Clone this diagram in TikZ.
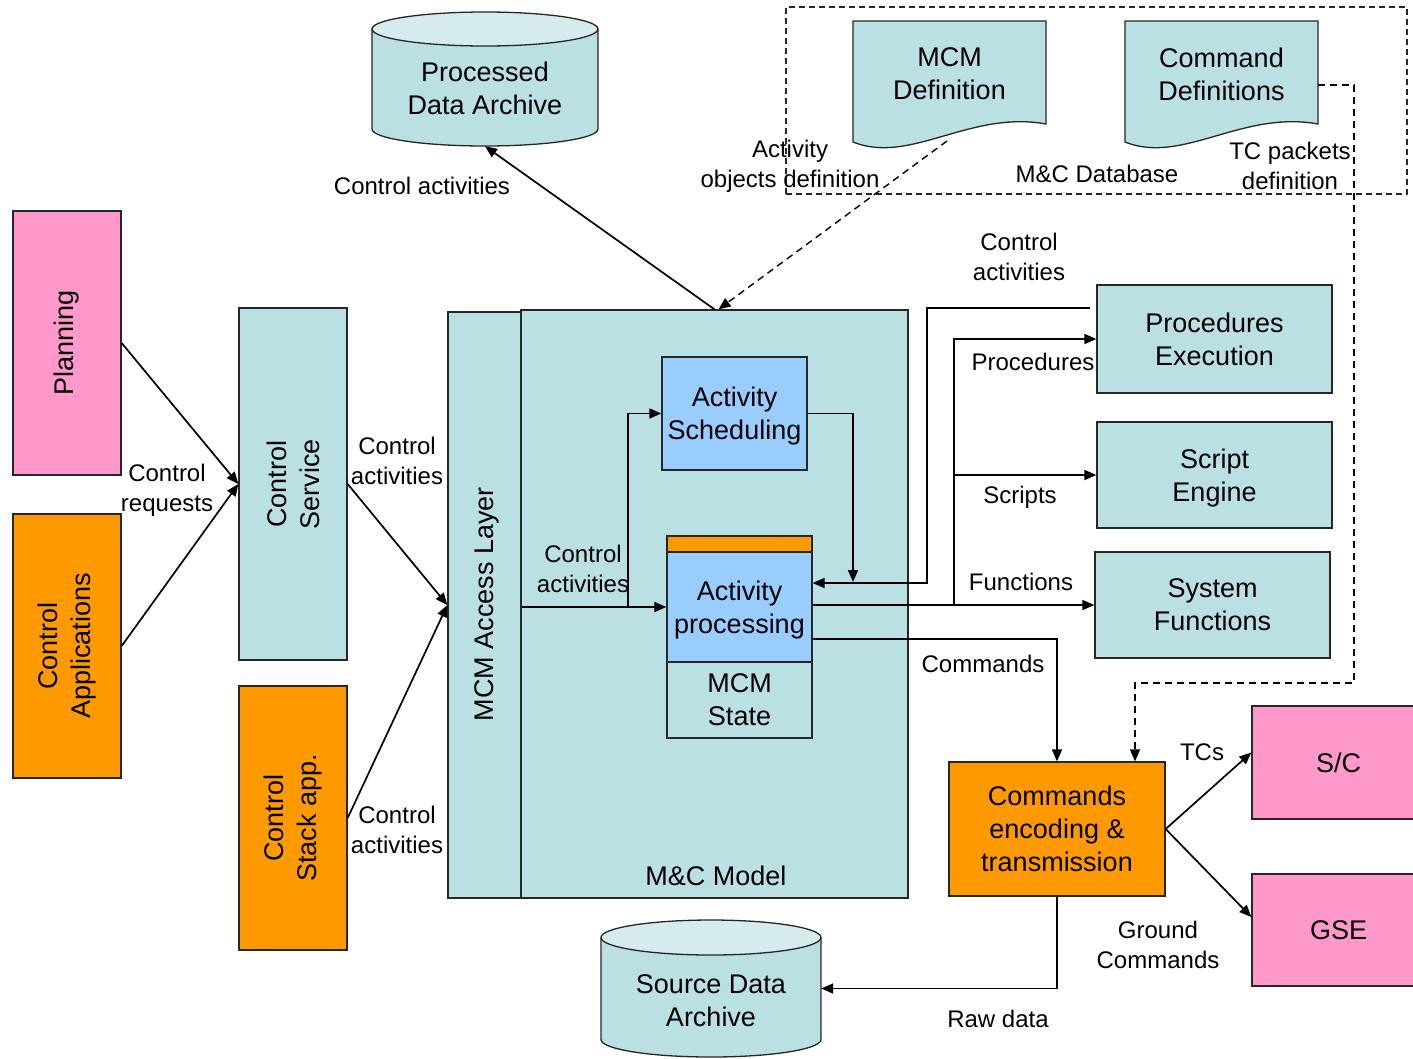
\documentclass[tikz,border=0pt]{standalone}
\usepackage{fontspec}
\setmainfont{Liberation Sans}
\usetikzlibrary{arrows.meta,calc}
\definecolor{teal1}{RGB}{187,224,227}
\definecolor{cyltop}{RGB}{213,235,238}
\definecolor{pink1}{RGB}{255,153,204}
\definecolor{orange1}{RGB}{255,153,0}
\definecolor{blue1}{RGB}{153,204,255}
\newcommand\bigf{\fontsize{27}{33}\selectfont}
\newcommand\lblf{\fontsize{24}{30}\selectfont}
\begin{document}
\begin{tikzpicture}[x=1pt,y=-1pt,
  box/.style={draw=black!85, line width=1.3pt, inner sep=0pt, align=center, font=\bigf, text depth=0pt},
  lbl/.style={inner sep=0pt, align=center, font=\lblf},
  rtxt/.style={rotate=90, inner sep=0pt, align=center, font=\bigf},
  edge/.style={draw=black!85, line width=1.3pt},
  arr/.style={line width=1.7pt, -{Triangle[length=12pt,width=10pt]}},
  dasharr/.style={line width=1.4pt, dash pattern=on 7pt off 5pt, -{Triangle[length=12pt,width=10pt]}},
]
\useasboundingbox (0,0) rectangle (1413,1058);

% ---- M&C Database frame and documents
\node[draw=black!85, line width=1.2pt, dash pattern=on 6pt off 4pt, minimum width=621pt, minimum height=187pt, inner sep=0pt] (db) at (1096.5,100.5) {};
\filldraw[fill=teal1, edge] (853,21) -- (1046,21) -- (1046,124) .. controls (970,110) and (910,165) .. (853,142) -- cycle;
\filldraw[fill=teal1, edge] (1125,21) -- (1318,21) -- (1318,124) .. controls (1242,110) and (1182,165) .. (1125,142) -- cycle;
\node[font=\bigf, align=center, inner sep=0pt] (mcmdef) at (949.5,74) {MCM\\Definition};
\node[font=\bigf, align=center, inner sep=0pt] (cmddef) at (1221.5,74) {Command\\Definitions};
\coordinate (mcmdefb) at (947,141);
\coordinate (cmddefr) at (1318,85);

% ---- Processed Data Archive cylinder
\node[minimum width=226pt, minimum height=134pt, inner sep=0pt] (pda) at (485,79) {};
\fill[teal1] (372,29) rectangle (598,129);
\fill[teal1] (485,129) ellipse[x radius=113pt, y radius=17pt];
\draw[edge] (372,29) -- (372,129) arc[start angle=180, end angle=360, x radius=113pt, y radius=17pt] -- (598,29);
\filldraw[fill=cyltop, edge] (485,29) ellipse[x radius=113pt, y radius=17pt];
\node[font=\bigf, align=center, inner sep=0pt] (pdat) at (485,88) {Processed\\Data Archive};

% ---- Source Data Archive cylinder
\node[minimum width=220pt, minimum height=137pt, inner sep=0pt] (sda) at (711,988.5) {};
\fill[teal1] (601,937.5) rectangle (821,1039.5);
\fill[teal1] (711,1039.5) ellipse[x radius=110pt, y radius=17.5pt];
\draw[edge] (601,937.5) -- (601,1039.5) arc[start angle=180, end angle=360, x radius=110pt, y radius=17.5pt] -- (821,937.5);
\filldraw[fill=cyltop, edge] (711,937.5) ellipse[x radius=110pt, y radius=17.5pt];
\node[font=\bigf, align=center, inner sep=0pt] (sdat) at (711,1001) {Source Data\\Archive};

% ---- left column
\node[box, fill=pink1, minimum width=108pt, minimum height=264pt] (plan) at (67,343) {};
\node[rtxt] (plant) at (plan.center) {Planning};
\node[box, fill=orange1, minimum width=108pt, minimum height=264pt] (capp) at (67,646) {};
\node[rtxt] (cappt) at (capp.center) {Control\\Applications};
\node[box, fill=teal1, minimum width=108pt, minimum height=352pt] (csrv) at (293,484) {};
\node[rtxt] (csrvt) at (csrv.center) {Control\\Service};
\node[box, fill=orange1, minimum width=108pt, minimum height=264pt] (cstk) at (293,818) {};
\node[rtxt] (cstkt) at (cstk.center) {Control\\Stack app.};

% ---- M&C Model
\node[box, fill=teal1, minimum width=387pt, minimum height=588pt] (mcm) at (714.5,604) {};
\node[font=\bigf, inner sep=0pt] (mcmt) at (716,876) {M\&C Model};
\node[box, fill=teal1, minimum width=73pt, minimum height=586pt] (acl) at (484.5,605) {};
\node[rtxt] (aclt) at (487,604) {MCM Access Layer};
\node[box, fill=blue1, minimum width=145pt, minimum height=113pt] (asch) at (734.5,413.5) {Activity\\Scheduling};
\node[box, fill=orange1, minimum width=145pt, minimum height=16pt] (apbar) at (739.5,544) {};
\node[box, fill=blue1, minimum width=145pt, minimum height=110pt] (ap) at (739.5,607) {Activity\\processing};
\node[box, fill=teal1, minimum width=145pt, minimum height=76pt] (mst) at (739.5,700) {MCM\\State};

% ---- right column
\node[box, fill=teal1, minimum width=235pt, minimum height=108pt] (pe) at (1214.5,339) {Procedures\\Execution};
\node[box, fill=teal1, minimum width=235pt, minimum height=106pt] (se) at (1214.5,475) {Script\\Engine};
\node[box, fill=teal1, minimum width=235pt, minimum height=106pt] (sf) at (1212.5,605) {System\\Functions};
\node[box, fill=orange1, minimum width=216pt, minimum height=134pt] (ce) at (1057,829) {Commands\\encoding \&\\transmission};
\node[box, fill=pink1, minimum width=173pt, minimum height=113pt] (sc) at (1338.5,762.5) {S/C};
\node[box, fill=pink1, minimum width=173pt, minimum height=112pt] (gse) at (1338.5,930) {GSE};

% ---- junction coordinates
\coordinate (j1) at (628,607);
\coordinate (j2) at (853,582);
\coordinate (j3) at (927,583);
\coordinate (j4) at (954,605);
\coordinate (j5) at (1354,683);

% ---- connectors
\draw[arr] (plan.east) -- (csrv.west);
\draw[arr] (capp.east) -- (csrv.west);
\draw[arr] (csrv.east) -- (acl.west);
\draw[arr] (cstk.east) -- (acl.west);
\draw[arr] (acl.east |- ap.west) -- (ap.west);
\draw[arr] (j1) |- (asch.west);
\draw[arr] (asch.east) -| (j2);
\draw[arr] ([shift={(-6pt,31pt)}]pe.west) -| (j3) -- (ap.east |- j3);
\draw[arr] (ap.east |- sf.west) -- (sf.west);
\draw[arr] (j4) |- (pe.west);
\draw[arr] (j4) |- (se.west);
\draw[arr] ([yshift=-32pt]ap.east) -| (ce.north);
\draw[dasharr] (cmddefr) -| (j5) -| ([xshift=78pt]ce.north);
\draw[arr] (ce.east) -- ([yshift=10pt]sc.west);
\draw[arr] (ce.east) -- ([yshift=13pt]gse.west);
\draw[arr] (ce.south) |- (sda.east);
\draw[arr] (mcm.north) -- (pda.south);
\draw[dasharr] (mcmdefb) -- ([xshift=4pt]mcm.north);

% ---- labels
\node[lbl] (l1) at (422,186) {Control activities};
\node[lbl] (l2) at (790,166) {Activity\\objects definition};
\node[lbl] (l3) at (1290,166) {TC packets\\definition};
\node[lbl] (l4) at (1097,174) {M\&C Database};
\node[lbl] (l5) at (1019,257) {Control\\activities};
\node[lbl] (l6) at (1033,362) {Procedures};
\node[lbl] (l7) at (1020,497) {Scripts};
\node[lbl] (l8) at (1021,582) {Functions};
\node[lbl] (l9) at (983,664) {Commands};
\node[lbl] (l10) at (1202,752) {TCs};
\node[lbl] (l11) at (1158,945) {Ground\\Commands};
\node[lbl] (l12) at (998,1019) {Raw data};
\node[lbl] (l13) at (167,490) {Control\\requests};
\node[lbl] (l14) at (397,461) {Control\\activities};
\node[lbl] (l15) at (397,830) {Control\\activities};
\node[lbl] (l16) at (583,569) {Control\\activities};
\end{tikzpicture}
\end{document}
